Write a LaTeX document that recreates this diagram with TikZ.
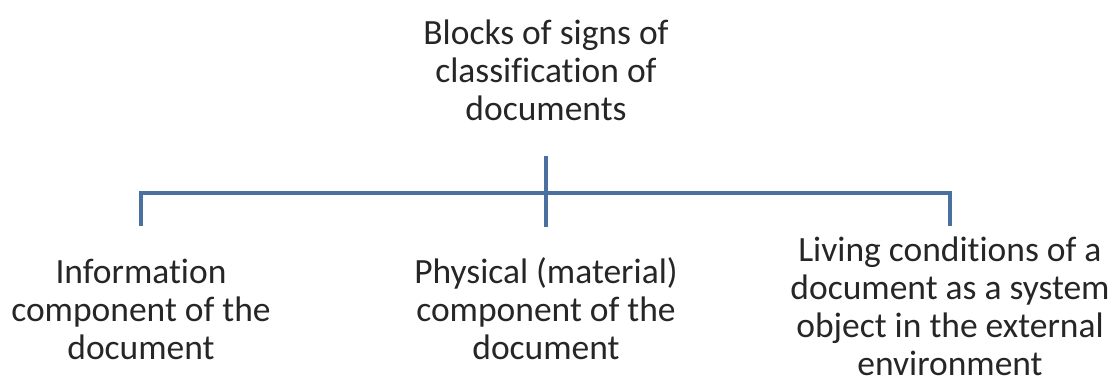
\documentclass[tikz,border=0pt]{standalone}
\usepackage{fontspec}
\setmainfont{Carlito}[Ligatures=NoCommon]
\usetikzlibrary{calc}
\definecolor{linkblue}{RGB}{74,112,160}
\definecolor{inkgray}{RGB}{38,38,38}
\tikzset{
  lbl/.style={anchor=north,align=center,inner sep=0pt,text=inkgray,
    font=\fontsize{20.2}{21.6}\selectfont},
  conn/.style={draw=linkblue,line width=2pt}
}

\begin{document}
\begin{tikzpicture}[x=0.02cm,y=-0.02cm]
\useasboundingbox (0,0) rectangle (1113,381);
\node[lbl] (blk) at (546,20) {Blocks of signs of\\classification of\\documents};
\node[lbl] (info) at (141,259) {Information\\component of the\\document};
\node[lbl] (phy) at (546,257) {Physical (material)\\component of the\\document};
\node[lbl] (life) at (950,237) {Living conditions of a\\document as a system\\object in the external\\environment};
% tree lines
\draw[conn] ($(blk.south)+(0,34)$) -- ($(phy.north)+(0,-30)$);
\draw[conn] ($(info.north)+(0,-33)$) -- ($(info.north)+(0,-66)$) -| ($(life.north)+(0,-11)$);
\end{tikzpicture}
\end{document}
